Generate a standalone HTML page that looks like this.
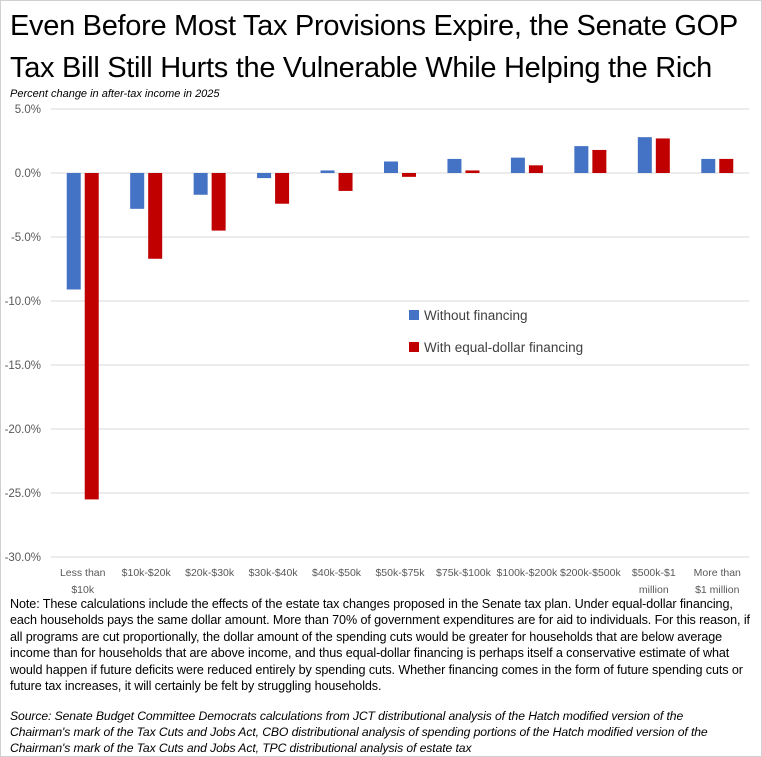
<!DOCTYPE html>
<html><head><meta charset="utf-8"><style>
body{margin:0;background:#fff;}
#wrap{position:relative;width:760px;height:755px;border:1px solid #d0d0d0;overflow:hidden;font-family:"Liberation Sans",sans-serif;}
h1{position:absolute;left:9px;top:4px;margin:0;font-weight:normal;font-size:29px;line-height:42px;color:#000;width:750px;letter-spacing:-0.3px}
.sub{position:absolute;left:9px;top:87px;font-size:11px;font-style:italic;color:#000}
.note{position:absolute;left:9px;top:595px;font-size:12.6px;line-height:16.4px;color:#000;white-space:nowrap;letter-spacing:-0.1px}
.src{position:absolute;left:9px;top:707px;font-size:12.2px;line-height:16px;font-style:italic;color:#000;white-space:nowrap;letter-spacing:-0.1px}
svg text{font-family:"Liberation Sans",sans-serif}
</style></head><body>
<div id="wrap">
<h1>Even Before Most Tax Provisions Expire, the Senate GOP Tax Bill Still Hurts the Vulnerable While Helping the Rich</h1>
<div class="sub">Percent change in after-tax income in 2025</div>
<svg id="chart" width="760" height="595" style="position:absolute;left:0;top:0"></svg>
<div class="note">Note: These calculations include the effects of the estate tax changes proposed in the Senate tax plan. Under equal-dollar financing,<br>each households pays the same dollar amount. More than 70% of government expenditures are for aid to individuals. For this reason, if<br>all programs are cut proportionally, the dollar amount of the spending cuts would be greater for households that are below average<br>income than for households that are above income, and thus equal-dollar financing is perhaps itself a conservative estimate of what<br>would happen if future deficits were reduced entirely by spending cuts. Whether financing comes in the form of future spending cuts or<br>future tax increases, it will certainly be felt by struggling households.</div>
<div class="src">Source: Senate Budget Committee Democrats calculations from JCT distributional analysis of the Hatch modified version of the<br>Chairman's mark of the Tax Cuts and Jobs Act, CBO distributional analysis of spending portions of the Hatch modified version of the<br>Chairman's mark of the Tax Cuts and Jobs Act, TPC distributional analysis of estate tax</div>
</div>
<script>
const categories=[["Less than","$10k"],["$10k-$20k"],["$20k-$30k"],["$30k-$40k"],["$40k-$50k"],["$50k-$75k"],["$75k-$100k"],["$100k-$200k"],["$200k-$500k"],["$500k-$1","million"],["More than","$1 million"]];
const withoutFinancing=[-9.1,-2.8,-1.7,-0.4,0.2,0.9,1.1,1.2,2.1,2.8,1.1];
const withFinancing=[-25.5,-6.7,-4.5,-2.4,-1.4,-0.3,0.2,0.6,1.8,2.7,1.1];
const yTicks=[5,0,-5,-10,-15,-20,-25,-30];
const seriesNames=["Without financing","With equal-dollar financing"];

const svg=document.getElementById('chart');
const NS='http://www.w3.org/2000/svg';
const x0=50,x1=748,yTop=108,yBot=556,yMax=5,yMin=-30;
const y=v=>yTop+(yMax-v)/(yMax-yMin)*(yBot-yTop);
const band=(x1-x0)/categories.length;
const xc=i=>x0+band*(i+0.5);
function mk(t,a){const e=document.createElementNS(NS,t);for(const k in a)e.setAttribute(k,a[k]);svg.appendChild(e);return e;}
yTicks.forEach(t=>{
  const g=mk('line',{x1:x0,x2:x1,y1:y(t),y2:y(t),stroke:'#d9d9d9','stroke-width':1});
  
  
  const l=mk('text',{x:40,y:y(t)+4,'text-anchor':'end','font-size':11.5,fill:'#595959'});
  l.textContent=t.toFixed(1)+'%';
  
  
});
const bw=14,gap=4;
const cols=['#4472c4','#c00000'];
[withoutFinancing,withFinancing].forEach((s,si)=>{
  s.forEach((v,i)=>{
    const bx=si===0?xc(i)-gap/2-bw:xc(i)+gap/2;
    const top=Math.min(y(v),y(0)),h=Math.abs(y(v)-y(0));
    const r=mk('rect',{x:bx,y:top,width:bw,height:Math.max(h,0.5),fill:cols[si]});
    
    
  });
});
categories.forEach((c,i)=>{
  c.forEach((line,j)=>{
    const t=mk('text',{x:xc(i),y:575+j*17,'text-anchor':'middle','font-size':10.5,fill:'#595959'});
    t.textContent=line;
    
    
  });
});
seriesNames.forEach((n,i)=>{
  const ly=315+i*32;
  const r=mk('rect',{x:408,y:ly-6,width:10,height:10,fill:cols[i]});
  
  
  const t=mk('text',{x:423,y:ly+4,'font-size':13.5,fill:'#404040'});
  t.textContent=n;
  
  
});
</script>
</body></html>
